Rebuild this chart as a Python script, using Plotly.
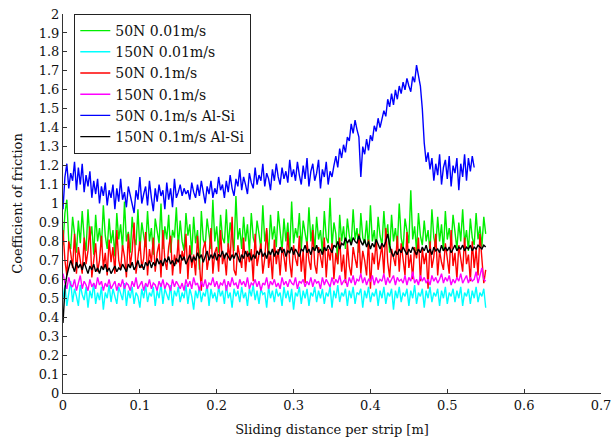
import plotly.graph_objects as go

# Sliding distance per strip [m] (sample positions, 0.0025 m apart)
DIST = [0.0000, 0.0025, 0.0050, 0.0075, 0.0100, 0.0125, 0.0150, 0.0175, 0.0200, 0.0225,
        0.0250, 0.0275, 0.0300, 0.0325, 0.0350, 0.0375, 0.0400, 0.0425, 0.0450, 0.0475,
        0.0500, 0.0525, 0.0550, 0.0575, 0.0600, 0.0625, 0.0650, 0.0675, 0.0700, 0.0725,
        0.0750, 0.0775, 0.0800, 0.0825, 0.0850, 0.0875, 0.0900, 0.0925, 0.0950, 0.0975,
        0.1000, 0.1025, 0.1050, 0.1075, 0.1100, 0.1125, 0.1150, 0.1175, 0.1200, 0.1225,
        0.1250, 0.1275, 0.1300, 0.1325, 0.1350, 0.1375, 0.1400, 0.1425, 0.1450, 0.1475,
        0.1500, 0.1525, 0.1550, 0.1575, 0.1600, 0.1625, 0.1650, 0.1675, 0.1700, 0.1725,
        0.1750, 0.1775, 0.1800, 0.1825, 0.1850, 0.1875, 0.1900, 0.1925, 0.1950, 0.1975,
        0.2000, 0.2025, 0.2050, 0.2075, 0.2100, 0.2125, 0.2150, 0.2175, 0.2200, 0.2225,
        0.2250, 0.2275, 0.2300, 0.2325, 0.2350, 0.2375, 0.2400, 0.2425, 0.2450, 0.2475,
        0.2500, 0.2525, 0.2550, 0.2575, 0.2600, 0.2625, 0.2650, 0.2675, 0.2700, 0.2725,
        0.2750, 0.2775, 0.2800, 0.2825, 0.2850, 0.2875, 0.2900, 0.2925, 0.2950, 0.2975,
        0.3000, 0.3025, 0.3050, 0.3075, 0.3100, 0.3125, 0.3150, 0.3175, 0.3200, 0.3225,
        0.3250, 0.3275, 0.3300, 0.3325, 0.3350, 0.3375, 0.3400, 0.3425, 0.3450, 0.3475,
        0.3500, 0.3525, 0.3550, 0.3575, 0.3600, 0.3625, 0.3650, 0.3675, 0.3700, 0.3725,
        0.3750, 0.3775, 0.3800, 0.3825, 0.3850, 0.3875, 0.3900, 0.3925, 0.3950, 0.3975,
        0.4000, 0.4025, 0.4050, 0.4075, 0.4100, 0.4125, 0.4150, 0.4175, 0.4200, 0.4225,
        0.4250, 0.4275, 0.4300, 0.4325, 0.4350, 0.4375, 0.4400, 0.4425, 0.4450, 0.4475,
        0.4500, 0.4525, 0.4550, 0.4575, 0.4600, 0.4625, 0.4650, 0.4675, 0.4700, 0.4725,
        0.4750, 0.4775, 0.4800, 0.4825, 0.4850, 0.4875, 0.4900, 0.4925, 0.4950, 0.4975,
        0.5000, 0.5025, 0.5050, 0.5075, 0.5100, 0.5125, 0.5150, 0.5175, 0.5200, 0.5225,
        0.5250, 0.5275, 0.5300, 0.5325, 0.5350, 0.5375, 0.5400, 0.5425, 0.5450, 0.5475,
        0.5500]

N50_V001 = [0.78, 0.95, 1.02, 0.80, 0.76, 0.93, 0.84, 0.74, 0.91, 0.79,
            0.96, 0.82, 0.75, 0.97, 0.81, 0.88, 0.73, 0.94, 0.80, 0.87,
            0.77, 0.99, 0.83, 0.76, 0.92, 0.79, 0.86, 0.72, 0.95, 0.81,
            0.89, 0.76, 1.01, 0.80, 0.85, 0.74, 0.93, 0.82, 0.78, 0.97,
            0.75, 0.90, 0.83, 0.77, 0.96, 0.80, 0.87, 0.73, 0.92, 0.84,
            0.79, 1.00, 0.76, 0.88, 0.81, 0.94, 0.74, 0.86, 0.82, 0.98,
            0.77, 0.91, 0.80, 0.75, 0.95, 0.83, 0.89, 0.73, 0.93, 0.79,
            0.86, 0.65, 0.96, 0.81, 0.78, 0.92, 0.84, 0.76, 1.02, 0.80,
            0.88, 0.74, 0.94, 0.82, 0.79, 0.97, 0.77, 0.90, 0.83, 0.75,
            1.04, 0.81, 0.87, 0.76, 0.93, 0.80, 0.89, 0.74, 0.95, 0.82,
            0.78, 0.91, 0.84, 0.76, 0.99, 0.80, 0.86, 0.73, 0.94, 0.81,
            0.88, 0.77, 0.96, 0.83, 0.75, 0.92, 0.80, 0.90, 0.74, 1.01,
            0.79, 0.87, 0.82, 0.95, 0.76, 0.91, 0.84, 0.78, 0.98, 0.80,
            0.89, 0.75, 0.93, 0.81, 0.86, 0.74, 0.96, 0.82, 0.79, 1.03,
            0.77, 0.90, 0.84, 0.68, 0.94, 0.80, 0.88, 0.76, 0.92, 0.83,
            0.78, 0.97, 0.81, 0.87, 0.74, 0.95, 0.82, 0.79, 0.91, 0.76,
            0.99, 0.80, 0.86, 0.75, 0.93, 0.83, 0.78, 0.96, 0.81, 0.89,
            0.74, 0.94, 0.80, 0.87, 0.77, 1.00, 0.82, 0.76, 0.92, 0.84,
            0.79, 1.07, 0.81, 0.88, 0.75, 0.95, 0.83, 0.78, 0.91, 0.80,
            0.86, 0.74, 0.97, 0.82, 0.77, 0.93, 0.80, 0.89, 0.75, 0.96,
            0.81, 0.87, 0.78, 0.94, 0.83, 0.76, 0.90, 0.80, 0.97, 0.79,
            0.86, 0.75, 0.92, 0.82, 0.78, 0.95, 0.81, 0.88, 0.77, 0.93,
            0.84]

N150_V001 = [0.50, 0.57, 0.46, 0.54, 0.59, 0.48, 0.55, 0.51, 0.46, 0.57,
             0.52, 0.49, 0.56, 0.45, 0.54, 0.50, 0.58, 0.47, 0.53, 0.49,
             0.56, 0.44, 0.53, 0.50, 0.57, 0.48, 0.55, 0.51, 0.47, 0.56,
             0.52, 0.49, 0.58, 0.46, 0.54, 0.50, 0.56, 0.47, 0.53, 0.51,
             0.45, 0.55, 0.50, 0.57, 0.48, 0.53, 0.51, 0.56, 0.46, 0.54,
             0.50, 0.58, 0.47, 0.55, 0.52, 0.49, 0.57, 0.46, 0.54, 0.51,
             0.56, 0.48, 0.53, 0.50, 0.57, 0.47, 0.55, 0.51, 0.44, 0.54,
             0.50, 0.56, 0.48, 0.53, 0.51, 0.57, 0.46, 0.55, 0.50, 0.53,
             0.48, 0.56, 0.51, 0.54, 0.47, 0.57, 0.50, 0.53, 0.45, 0.55,
             0.51, 0.54, 0.48, 0.56, 0.50, 0.53, 0.46, 0.55, 0.51, 0.57,
             0.49, 0.54, 0.47, 0.55, 0.52, 0.53, 0.45, 0.56, 0.50, 0.54,
             0.48, 0.55, 0.51, 0.53, 0.46, 0.56, 0.50, 0.54, 0.48, 0.55,
             0.44, 0.53, 0.51, 0.56, 0.47, 0.54, 0.50, 0.55, 0.46, 0.53,
             0.51, 0.56, 0.48, 0.54, 0.50, 0.55, 0.47, 0.53, 0.51, 0.56,
             0.45, 0.54, 0.50, 0.57, 0.48, 0.53, 0.51, 0.55, 0.46, 0.54,
             0.50, 0.56, 0.47, 0.53, 0.52, 0.55, 0.45, 0.54, 0.50, 0.56,
             0.48, 0.53, 0.51, 0.55, 0.46, 0.54, 0.50, 0.56, 0.47, 0.53,
             0.51, 0.55, 0.44, 0.54, 0.50, 0.56, 0.48, 0.53, 0.51, 0.55,
             0.46, 0.54, 0.50, 0.57, 0.47, 0.53, 0.51, 0.55, 0.45, 0.54,
             0.50, 0.56, 0.48, 0.53, 0.51, 0.55, 0.46, 0.54, 0.50, 0.56,
             0.47, 0.53, 0.51, 0.55, 0.48, 0.54, 0.50, 0.56, 0.46, 0.53,
             0.51, 0.55, 0.47, 0.54, 0.50, 0.56, 0.48, 0.53, 0.51, 0.55,
             0.45]

N50_V01 = [0.86, 0.70, 0.62, 0.80, 0.74, 0.66, 0.84, 0.63, 0.77, 0.71,
           0.63, 0.82, 0.68, 0.75, 0.88, 0.61, 0.72, 0.79, 0.64, 0.70,
           0.83, 0.66, 0.74, 0.62, 0.81, 0.69, 0.77, 0.63, 0.86, 0.70,
           0.65, 0.78, 0.72, 0.61, 0.84, 0.67, 0.75, 0.90, 0.63, 0.73,
           0.80, 0.66, 0.71, 0.85, 0.62, 0.76, 0.69, 0.82, 0.64, 0.74,
           0.79, 0.61, 0.86, 0.70, 0.65, 0.77, 0.83, 0.62, 0.73, 0.68,
           0.81, 0.63, 0.75, 0.70, 0.84, 0.60, 0.78, 0.66, 0.73, 0.62,
           0.83, 0.69, 0.54, 0.76, 0.80, 0.65, 0.72, 0.87, 0.63, 0.74,
           0.77, 0.64, 0.86, 0.68, 0.73, 0.62, 0.79, 0.70, 0.93, 0.65,
           0.62, 0.78, 0.71, 0.66, 0.82, 0.64, 0.75, 0.69, 0.76, 0.59,
           0.84, 0.67, 0.73, 0.79, 0.63, 0.71, 0.87, 0.66, 0.74, 0.60,
           0.81, 0.68, 0.76, 0.62, 0.77, 0.72, 0.64, 0.85, 0.69, 0.61,
           0.78, 0.71, 0.67, 0.83, 0.64, 0.75, 0.58, 0.80, 0.70, 0.65,
           0.86, 0.68, 0.63, 0.77, 0.72, 0.66, 0.82, 0.61, 0.76, 0.70,
           0.79, 0.60, 0.74, 0.68, 0.82, 0.64, 0.73, 0.58, 0.79, 0.67,
           0.62, 0.77, 0.71, 0.66, 0.84, 0.63, 0.75, 0.70, 0.62, 0.81,
           0.55, 0.74, 0.68, 0.81, 0.65, 0.72, 0.78, 0.63, 0.87, 0.69,
           0.61, 0.76, 0.72, 0.67, 0.83, 0.64, 0.79, 0.70, 0.62, 0.85,
           0.66, 0.73, 0.60, 0.77, 0.71, 0.82, 0.59, 0.76, 0.68, 0.74,
           0.55, 0.80, 0.66, 0.72, 0.84, 0.62, 0.75, 0.69, 0.65, 0.79,
           0.71, 0.63, 0.86, 0.67, 0.74, 0.60, 0.78, 0.70, 0.64, 0.82,
           0.68, 0.73, 0.59, 0.80, 0.66, 0.76, 0.62, 0.84, 0.70, 0.58,
           0.65]

N150_V01 = [0.63, 0.58, 0.55, 0.61, 0.57, 0.56, 0.60, 0.54, 0.58, 0.62,
            0.55, 0.59, 0.57, 0.54, 0.60, 0.56, 0.58, 0.55, 0.61, 0.57,
            0.59, 0.54, 0.58, 0.56, 0.60, 0.55, 0.57, 0.59, 0.54, 0.58,
            0.56, 0.60, 0.55, 0.58, 0.57, 0.54, 0.59, 0.56, 0.61, 0.55,
            0.57, 0.59, 0.54, 0.58, 0.56, 0.60, 0.55, 0.58, 0.57, 0.54,
            0.59, 0.56, 0.60, 0.55, 0.58, 0.57, 0.54, 0.60, 0.56, 0.59,
            0.57, 0.55, 0.58, 0.54, 0.60, 0.56, 0.59, 0.55, 0.61, 0.57,
            0.58, 0.54, 0.59, 0.56, 0.60, 0.55, 0.58, 0.57, 0.61, 0.56,
            0.59, 0.55, 0.58, 0.57, 0.60, 0.54, 0.59, 0.56, 0.61, 0.57,
            0.58, 0.55, 0.60, 0.57, 0.59, 0.56, 0.61, 0.55, 0.58, 0.57,
            0.60, 0.56, 0.59, 0.54, 0.58, 0.57, 0.61, 0.55, 0.59, 0.57,
            0.60, 0.56, 0.58, 0.55, 0.61, 0.57, 0.59, 0.56, 0.60, 0.58,
            0.57, 0.61, 0.55, 0.59, 0.58, 0.60, 0.56, 0.59, 0.57, 0.61,
            0.56, 0.60, 0.58, 0.59, 0.55, 0.61, 0.57, 0.60, 0.58, 0.56,
            0.61, 0.57, 0.60, 0.58, 0.62, 0.57, 0.59, 0.60, 0.56, 0.61,
            0.58, 0.62, 0.57, 0.60, 0.59, 0.63, 0.58, 0.61, 0.57, 0.60,
            0.59, 0.62, 0.57, 0.61, 0.58, 0.60, 0.59, 0.63, 0.57, 0.61,
            0.58, 0.60, 0.62, 0.57, 0.61, 0.59, 0.60, 0.58, 0.62, 0.57,
            0.61, 0.59, 0.64, 0.58, 0.60, 0.57, 0.62, 0.59, 0.61, 0.58,
            0.60, 0.57, 0.62, 0.59, 0.61, 0.58, 0.60, 0.63, 0.58, 0.61,
            0.59, 0.62, 0.57, 0.60, 0.58, 0.61, 0.59, 0.63, 0.58, 0.60,
            0.62, 0.58, 0.61, 0.59, 0.60, 0.64, 0.58, 0.62, 0.66, 0.60,
            0.59]

N50_V01_ALSI = [0.97, 1.14, 1.21, 1.08, 1.16, 1.12, 1.22, 1.07, 1.19, 1.10,
                1.21, 1.06, 1.15, 1.09, 1.17, 1.03, 1.12, 1.05, 1.13, 1.00,
                1.09, 1.04, 1.11, 0.99, 1.07, 1.03, 1.10, 0.97, 1.08, 1.01,
                1.13, 1.02, 1.06, 0.98, 1.09, 1.04, 1.00, 0.95, 1.07, 1.02,
                1.14, 1.00, 1.05, 1.09, 0.99, 1.12, 1.03, 0.96, 1.08, 1.01,
                1.10, 1.04, 1.07, 0.97, 1.11, 1.02, 1.08, 0.98, 1.13, 1.03,
                1.06, 1.10, 1.04, 1.08, 1.05, 1.07, 1.02, 1.11, 1.06, 1.03,
                1.10, 1.04, 1.12, 1.06, 1.00, 1.09, 1.05, 1.12, 1.03, 1.08,
                1.05, 1.14, 1.07, 1.10, 1.03, 1.12, 1.06, 1.15, 1.08, 1.04,
                1.13, 1.09, 1.18, 1.07, 1.14, 1.10, 1.05, 1.16, 1.11, 1.08,
                1.19, 1.10, 1.15, 1.12, 1.21, 1.09, 1.16, 1.13, 1.07, 1.18,
                1.12, 1.21, 1.14, 1.10, 1.19, 1.13, 1.17, 1.11, 1.23, 1.14,
                1.18, 1.12, 1.22, 1.15, 1.10, 1.20, 1.13, 1.24, 1.09, 1.17,
                1.21, 1.12, 1.16, 1.23, 1.08, 1.18, 1.14, 1.22, 1.10, 1.17,
                1.14, 1.20, 1.25, 1.19, 1.29, 1.24, 1.31, 1.27, 1.35, 1.33,
                1.42, 1.37, 1.44, 1.39, 1.35, 1.14, 1.30, 1.26, 1.34, 1.28,
                1.36, 1.33, 1.41, 1.38, 1.45, 1.40, 1.44, 1.49, 1.46, 1.55,
                1.51, 1.58, 1.52, 1.60, 1.55, 1.62, 1.58, 1.64, 1.60, 1.66,
                1.62, 1.59, 1.67, 1.64, 1.73, 1.68, 1.62, 1.50, 1.32, 1.22,
                1.27, 1.18, 1.24, 1.12, 1.21, 1.15, 1.26, 1.10, 1.19, 1.23,
                1.13, 1.25, 1.09, 1.20, 1.16, 1.24, 1.07, 1.21, 1.14, 1.26,
                1.12, 1.24, 1.17, 1.25, 1.19]

N150_V01_ALSI = [0.37, 0.55, 0.62, 0.66, 0.70, 0.67, 0.64, 0.69, 0.66, 0.68,
                 0.65, 0.69, 0.66, 0.63, 0.67, 0.65, 0.68, 0.64, 0.66, 0.63,
                 0.67, 0.65, 0.68, 0.64, 0.66, 0.63, 0.65, 0.67, 0.64, 0.66,
                 0.65, 0.68, 0.66, 0.64, 0.68, 0.66, 0.69, 0.65, 0.67, 0.70,
                 0.66, 0.68, 0.65, 0.69, 0.67, 0.70, 0.66, 0.69, 0.67, 0.71,
                 0.68, 0.70, 0.67, 0.71, 0.69, 0.72, 0.68, 0.70, 0.67, 0.71,
                 0.69, 0.73, 0.70, 0.72, 0.68, 0.71, 0.73, 0.69, 0.72, 0.70,
                 0.74, 0.71, 0.73, 0.69, 0.72, 0.75, 0.70, 0.73, 0.71, 0.74,
                 0.70, 0.73, 0.72, 0.75, 0.71, 0.74, 0.72, 0.70, 0.73, 0.71,
                 0.74, 0.72, 0.69, 0.73, 0.71, 0.75, 0.72, 0.74, 0.70, 0.73,
                 0.71, 0.75, 0.73, 0.76, 0.72, 0.74, 0.71, 0.75, 0.73, 0.76,
                 0.72, 0.75, 0.73, 0.77, 0.74, 0.76, 0.72, 0.75, 0.74, 0.77,
                 0.73, 0.76, 0.74, 0.72, 0.76, 0.75, 0.78, 0.74, 0.76, 0.73,
                 0.77, 0.75, 0.78, 0.74, 0.76, 0.73, 0.77, 0.75, 0.78, 0.76,
                 0.74, 0.78, 0.77, 0.80, 0.76, 0.79, 0.78, 0.82, 0.79, 0.81,
                 0.78, 0.82, 0.80, 0.79, 0.83, 0.80, 0.78, 0.81, 0.77, 0.80,
                 0.76, 0.79, 0.77, 0.81, 0.78, 0.76, 0.79, 0.77, 0.80, 0.84,
                 0.78, 0.74, 0.72, 0.75, 0.73, 0.76, 0.74, 0.77, 0.75, 0.73,
                 0.76, 0.74, 0.77, 0.75, 0.73, 0.76, 0.74, 0.77, 0.75, 0.78,
                 0.74, 0.76, 0.73, 0.77, 0.75, 0.76, 0.74, 0.78, 0.75, 0.77,
                 0.75, 0.77, 0.74, 0.76, 0.78, 0.75, 0.77, 0.76, 0.78, 0.75,
                 0.77, 0.76, 0.78, 0.75, 0.77, 0.76, 0.78, 0.77, 0.76, 0.78,
                 0.77]

SERIES = [
    ("50N 0.01m/s", N50_V001, "#00ee00"),
    ("150N 0.01m/s", N150_V001, "#00ffff"),
    ("50N 0.1m/s", N50_V01, "#ff0000"),
    ("150N 0.1m/s", N150_V01, "#ff00ff"),
    ("50N 0.1m/s Al-Si", N50_V01_ALSI, "#0000ff"),
    ("150N 0.1m/s Al-Si", N150_V01_ALSI, "#000000"),
]

FONT = "DejaVu Serif"

fig = go.Figure()
for name, vals, col in SERIES:
    fig.add_trace(go.Scatter(
        x=DIST[:len(vals)], y=vals, mode="lines", name=name,
        line=dict(color=col, width=1.4),
    ))

axis_common = dict(
    showline=True, linecolor="#333333", linewidth=1,
    ticks="inside", ticklen=4, tickcolor="#333333", tickwidth=1,
    showgrid=False, zeroline=False, mirror=False, automargin=False,
    tickfont=dict(family=FONT, size=13, color="#111111"),
)

fig.update_layout(
    width=613, height=438,
    margin=dict(l=63, r=12, t=14, b=45),
    paper_bgcolor="white", plot_bgcolor="white",
    font=dict(family=FONT, size=13, color="#111111"),
    showlegend=True,
    legend=dict(
        x=0.021, y=1.0, xanchor="left", yanchor="top",
        bgcolor="white", bordercolor="#222222", borderwidth=1,
        font=dict(family=FONT, size=14, color="#111111"),
        itemwidth=30, tracegroupgap=0,
    ),
    xaxis=dict(range=[0, 0.7], dtick=0.1, tick0=0,
               title=dict(text="Sliding distance per strip [m]", standoff=13,
                          font=dict(family=FONT, size=13)),
               **axis_common),
    yaxis=dict(range=[0, 2], dtick=0.1, tick0=0,
               title=dict(text="Coefficient of friction", standoff=13,
                          font=dict(family=FONT, size=13)),
               **axis_common),
)

fig.write_html("out.html")
